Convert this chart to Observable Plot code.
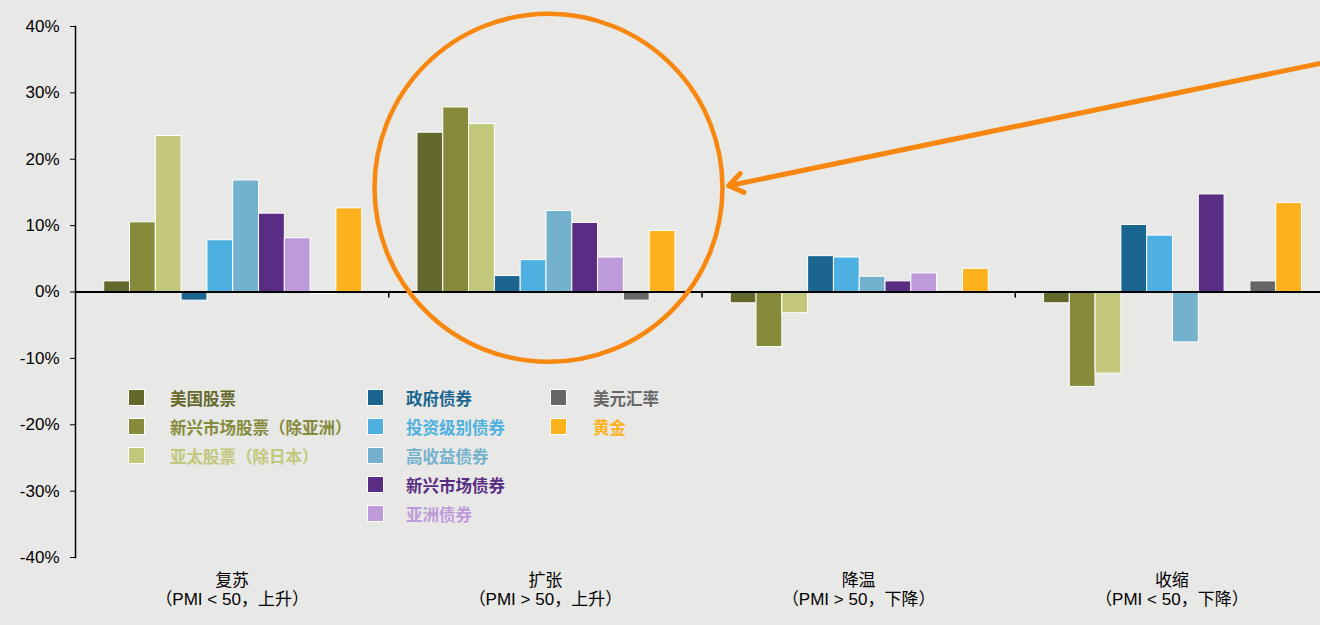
<!DOCTYPE html>
<html>
<head>
<meta charset="utf-8">
<script src="https://cdn.jsdelivr.net/npm/d3@7"></script>
<script src="https://cdn.jsdelivr.net/npm/@observablehq/plot@0.6"></script>
<style>
  html, body { margin: 0; padding: 0; background: #e8e8e6; overflow: hidden; }
  #chart { position: relative; width: 1328px; height: 625px; overflow: hidden; }
  #chart svg { position: absolute; left: 0; top: 0; max-width: none !important; }
  .legend-col { position: absolute; top: 383px; }
  .legend-item { display: flex; align-items: center; height: 29px; white-space: nowrap;
    font-family: "Noto Sans CJK SC", sans-serif; font-weight: 700; font-size: 16.5px; }
  .legend-item .sw { width: 17px; height: 17px; box-sizing: border-box; border: 1px solid #fff; flex: none; }
</style>
</head>
<body>
<div id="chart"></div>
<script>
// Economic-cycle phases and their PMI descriptions
const groups = ["复苏", "扩张", "降温", "收缩"];
const groupNotes = ["（PMI < 50，上升）", "（PMI > 50，上升）", "（PMI > 50，下降）", "（PMI < 50，下降）"];

// Asset classes and their colours
const series = ["美国股票", "新兴市场股票（除亚洲）", "亚太股票（除日本）", "政府债券", "投资级别债券",
  "高收益债券", "新兴市场债券", "亚洲债券", "美元汇率", "黄金"];
const colors = ["#64682b", "#878a3a", "#c2c77b", "#1a6690", "#4eb0e0",
  "#73b1cc", "#582d83", "#bd9bdb", "#666666", "#fdb21d"];

// Average return (%) per asset class in each phase
const recovery    = [1.6, 10.5, 23.5, -1.3, 7.8, 16.8, 11.8, 8.1, -0.3, 12.6];
const expansion   = [24.0, 27.8, 25.3, 2.4, 4.8, 12.2, 10.4, 5.2, -1.3, 9.2];
const slowdown    = [-1.7, -8.3, -3.2, 5.4, 5.2, 2.3, 1.6, 2.8, 0.2, 3.5];
const contraction = [-1.7, -14.3, -12.3, 10.1, 8.5, -7.6, 14.7, null, 1.6, 13.4];

const yTicks = [40, 30, 20, 10, 0, -10, -20, -30, -40];

// Highlight ring around the expansion phase and the pointer leading to it
// (x in phase units: phase i spans [i, i + 1]; y in %)
const highlight = [{x: 1.51, y: 15.7}];
const pointer = [{x1: 4.0, y1: 34.7, x2: 2.085, y2: 16.0}];

const legendColumns = [[0, 1, 2], [3, 4, 5, 6, 7], [8, 9]];

const phaseValues = [recovery, expansion, slowdown, contraction];
const rows = [];
groups.forEach((g, gi) => series.forEach((s, si) => {
  const v = phaseValues[gi][si];
  if (v != null) rows.push({group: g, series: s, value: v});
}));

const W = 1328, H = 625;
const margins = {marginLeft: 75, marginRight: 0, marginTop: 26, marginBottom: 68};
const font = '"Liberation Sans", "Noto Sans CJK SC", sans-serif';
const orange = "#f7870f";
const downTick = {draw(context, l) { context.moveTo(0, 0); context.lineTo(0, -l); }};

const chart = Plot.plot({
  width: W, height: H, ...margins,
  style: {background: "transparent", fontFamily: font, fontSize: "17px", color: "#000", overflow: "visible"},
  fx: {domain: groups, paddingInner: 0, paddingOuter: 0, round: false, axis: null},
  x: {domain: series, paddingInner: 0, paddingOuter: 1.07, align: 0.52, round: false, axis: null},
  y: {domain: [-40, 40], axis: null},
  color: {domain: series, range: colors},
  marks: [
    Plot.barY(rows, {fx: "group", x: "series", y: "value", fill: "series", stroke: "#fff", strokeWidth: 1}),
    Plot.ruleY([0], {stroke: "#000", strokeWidth: 2}),
    Plot.vector(groups, {fx: d => d, y: () => 0, frameAnchor: "right", length: 5, rotate: 180,
      anchor: "start", shape: downTick, stroke: "#000", strokeWidth: 1.5}),
    Plot.frame({anchor: "left", facetAnchor: "left", stroke: "#000", strokeWidth: 1.5}),
    Plot.axisY({ticks: yTicks, tickFormat: d => `${d}%`, tickSize: 5, tickPadding: 11, label: null,
      fontSize: 17, stroke: "#000", fill: "#000"}),
    Plot.text(groups, {fx: d => d, text: d => d, frameAnchor: "bottom", dy: 28,
      fontSize: 17, fill: "#000"}),
    Plot.text(groups, {fx: d => d, text: (d, i) => groupNotes[i], frameAnchor: "bottom", dy: 47,
      fontSize: 17, fill: "#000"})
  ]
});

const overlay = Plot.plot({
  width: W, height: H, ...margins,
  style: {background: "transparent", overflow: "visible"},
  x: {domain: [0, 4], axis: null},
  y: {domain: [-40, 40], axis: null},
  marks: [
    Plot.dot(highlight, {x: "x", y: "y", r: 174, stroke: orange, strokeWidth: 4.5, fill: "none"}),
    Plot.arrow(pointer, {x1: "x1", y1: "y1", x2: "x2", y2: "y2", stroke: orange, strokeWidth: 5,
      headLength: 5, headAngle: 70})
  ]
});

const root = document.getElementById("chart");
root.appendChild(chart);
root.appendChild(overlay);

// Legend laid out in three columns inside the plot area
const colLeft = [128, 367, 550];
const colGap = [25, 22, 26];
legendColumns.forEach((idxs, c) => {
  const col = document.createElement("div");
  col.className = "legend-col";
  col.style.left = colLeft[c] + "px";
  idxs.forEach(i => {
    const item = document.createElement("div");
    item.className = "legend-item";
    const sw = document.createElement("span");
    sw.className = "sw";
    sw.style.background = colors[i];
    sw.style.marginRight = colGap[c] + "px";
    const label = document.createElement("span");
    label.textContent = series[i];
    label.style.color = colors[i];
    item.appendChild(sw);
    item.appendChild(label);
    col.appendChild(item);
  });
  root.appendChild(col);
});
</script>
</body>
</html>
